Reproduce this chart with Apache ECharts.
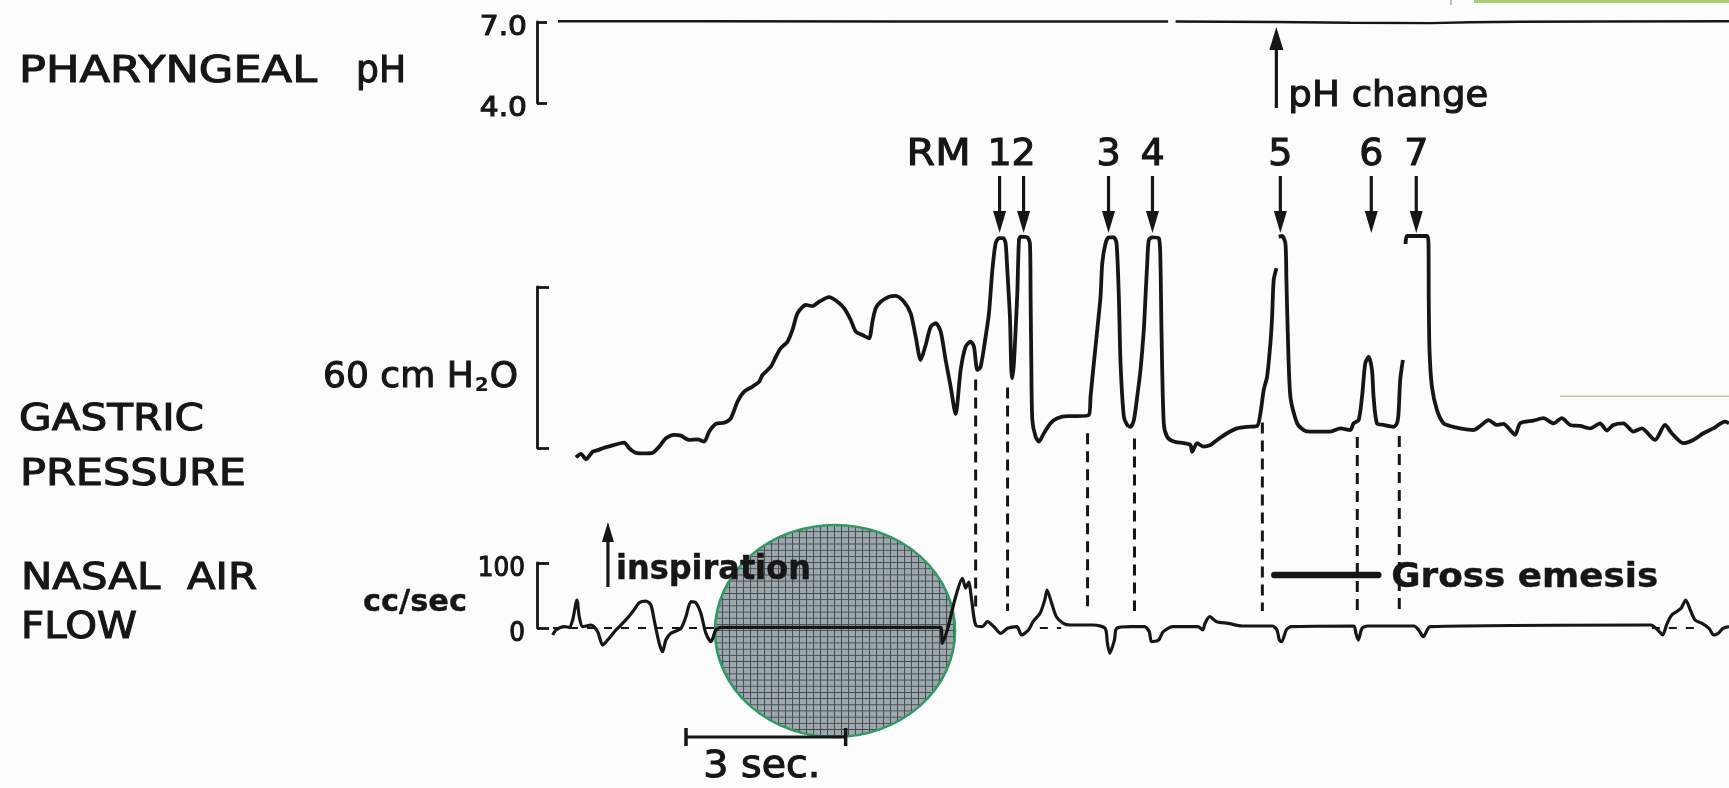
<!DOCTYPE html>
<html><head><meta charset="utf-8">
<script src="https://cdn.jsdelivr.net/npm/echarts@6/dist/echarts.min.js"></script>
<style>html,body{margin:0;padding:0;background:#fcfcfc}#c{width:1729px;height:788px}</style>
</head><body><div id="c"></div>
<script>
// ---------------- data ----------------
const timeRange = [0, 22.4];              // seconds
const phTicks = [4, 7];                   // pH bracket
const gastricTicks = [0, 60];             // cm H2O bracket
const nasalTicks = [0, 100];              // cc/sec bracket

const phTrace = [[0.394,7.03],[3.08,7.03],[6.84,7.02],[11.86,7.02],[11.93,'-'],[12.0,7.02],[13.88,7.0],[15.28,6.97],[16.79,6.96],[17.54,6.99],[18.48,7.01],[19.98,7.02],[22.4,7.03]];

const gastricTrace = [[0.732,-3.5],[0.826,-2.2],[0.920,-4.2],[1.046,-1.4],[1.140,-0.8],[1.264,0.1],[1.389,0.8],[1.515,1.5],[1.639,2.0],[1.733,-0.1],[1.859,-1.8],[2.015,-2.0],[2.172,-1.8],[2.296,0.5],[2.422,3.6],[2.578,4.9],[2.704,4.6],[2.860,3.0],[3.017,3.2],[3.141,2.4],[3.235,6.1],[3.361,9.0],[3.517,9.4],[3.643,11.1],[3.768,17.3],[3.892,21.0],[4.050,22.9],[4.174,24.7],[4.238,27.2],[4.394,30.3],[4.488,34.0],[4.581,37.2],[4.707,39.6],[4.801,44.0],[4.895,50.2],[5.051,53.3],[5.177,52.9],[5.300,54.5],[5.488,56.2],[5.646,54.5],[5.770,52.1],[5.896,47.7],[5.990,43.4],[6.115,42.1],[6.239,40.9],[6.303,47.1],[6.365,52.1],[6.459,54.5],[6.615,56.4],[6.741,56.7],[6.896,54.5],[7.022,50.2],[7.116,41.5],[7.210,32.8],[7.304,38.4],[7.398,45.2],[7.492,46.5],[7.586,43.4],[7.679,32.8],[7.773,22.9],[7.867,12.7],[7.961,29.1],[8.055,37.8],[8.149,39.6],[8.211,37.8],[8.275,29.1],[8.337,30.3],[8.431,41.5],[8.493,50.2],[8.557,66.3],[8.618,76.3],[8.680,78.2],[8.763,78.2],[8.806,76.3],[8.838,66.3],[8.887,48.9],[8.913,29.1],[8.932,26.0],[8.962,31.6],[8.994,44.0],[9.026,57.7],[9.057,77.5],[9.089,78.8],[9.214,78.5],[9.263,76.3],[9.276,56.4],[9.289,31.6],[9.308,10.4],[9.370,4.2],[9.432,2.4],[9.526,5.5],[9.651,9.2],[9.777,11.1],[9.965,11.9],[10.152,11.9],[10.370,12.3],[10.402,19.1],[10.464,31.6],[10.528,44.0],[10.590,56.4],[10.622,68.8],[10.684,76.3],[10.746,78.5],[10.840,78.5],[10.891,76.3],[10.934,56.4],[10.966,31.6],[11.028,11.7],[11.092,8.6],[11.154,7.9],[11.216,10.4],[11.279,19.1],[11.341,29.1],[11.403,44.0],[11.435,56.4],[11.467,68.8],[11.497,77.5],[11.560,78.5],[11.684,78.2],[11.716,68.8],[11.735,44.0],[11.778,9.2],[11.842,4.2],[11.966,2.4],[12.154,1.8],[12.280,1.1],[12.312,-1.4],[12.405,1.8],[12.529,0.5],[12.655,1.1],[12.781,3.0],[12.969,5.5],[13.156,7.3],[13.344,7.9],[13.532,8.2],[13.594,12.9],[13.656,21.6],[13.720,26.6],[13.782,39.0],[13.814,48.9],[13.844,62.6],[13.895,67.0],[13.917,'-'],[13.938,78.8],[14.002,79.0],[14.064,76.3],[14.083,62.6],[14.107,44.0],[14.158,19.1],[14.283,9.2],[14.407,6.7],[14.533,6.1],[14.721,6.1],[14.908,6.1],[15.096,7.3],[15.284,6.7],[15.346,9.2],[15.440,10.4],[15.504,19.1],[15.565,31.6],[15.627,34.0],[15.691,29.1],[15.721,19.1],[15.784,9.2],[15.908,8.6],[16.096,7.9],[16.160,9.2],[16.190,12.9],[16.221,25.3],[16.272,32.8],[16.300,'-'],[16.322,76.0],[16.354,79.0],[16.723,79.0],[16.753,76.3],[16.758,55.2],[16.772,36.5],[16.817,22.9],[16.911,14.2],[17.035,9.2],[17.161,8.2],[17.349,7.3],[17.599,6.7],[17.724,8.2],[17.881,10.4],[18.038,8.6],[18.162,9.0],[18.288,6.7],[18.382,4.9],[18.476,9.2],[18.725,10.2],[18.913,11.1],[19.101,9.2],[19.259,11.1],[19.414,8.6],[19.602,8.2],[19.790,7.3],[19.978,9.2],[20.103,6.5],[20.227,8.6],[20.415,9.2],[20.603,6.1],[20.761,7.3],[21.010,3.0],[21.198,8.6],[21.324,5.5],[21.541,1.8],[21.729,3.0],[21.917,5.5],[22.105,7.3],[22.325,9.8],[22.400,9.2]];

const nasalTrace = [[0.295,-10.8],[0.357,-3.1],[0.513,2.0],[0.606,1.1],[0.670,12.3],[0.751,43.1],[0.794,17.4],[0.858,2.0],[1.014,4.6],[1.140,-5.7],[1.234,-26.2],[1.327,-18.5],[1.483,-3.1],[1.639,9.7],[1.797,25.1],[1.921,38.9],[2.047,41.5],[2.140,35.4],[2.202,12.3],[2.296,-23.5],[2.360,-36.5],[2.422,-18.5],[2.516,-8.2],[2.704,-0.5],[2.798,17.4],[2.892,40.5],[2.985,38.9],[3.079,22.6],[3.173,-8.2],[3.267,-21.1],[3.361,-3.1],[3.455,1.1],[7.586,1.1],[7.617,-23.5],[7.711,-3.1],[7.773,17.4],[7.867,48.2],[7.993,76.5],[8.055,61.5],[8.111,70.8],[8.168,43.1],[8.243,4.6],[8.369,2.0],[8.462,9.7],[8.586,2.0],[8.712,-8.2],[8.843,-0.5],[9.018,2.0],[9.105,-10.8],[9.236,-3.1],[9.322,9.7],[9.454,22.6],[9.542,43.1],[9.585,58.5],[9.672,38.0],[9.760,17.4],[9.891,7.2],[10.021,4.6],[10.458,4.6],[10.676,-0.5],[10.719,-23.5],[10.764,-38.9],[10.851,-18.5],[10.894,-0.5],[11.157,2.0],[11.418,2.0],[11.506,-5.7],[11.549,-21.1],[11.681,-18.5],[11.767,-5.7],[11.942,2.0],[12.422,2.0],[12.508,-3.1],[12.554,7.2],[12.640,17.4],[12.772,9.7],[12.989,7.2],[13.250,3.1],[13.819,3.1],[13.905,-3.1],[13.951,-18.5],[13.994,-21.1],[14.080,-3.1],[14.169,2.0],[15.346,3.1],[15.389,-8.2],[15.434,-18.5],[15.503,-0.5],[15.609,3.1],[16.482,3.1],[16.568,-3.1],[16.656,-13.4],[16.786,2.0],[20.934,4.6],[21.063,-3.1],[21.151,-10.8],[21.238,7.2],[21.324,20.0],[21.412,25.1],[21.499,30.3],[21.587,43.1],[21.673,27.7],[21.762,12.3],[21.893,7.2],[22.024,-0.5],[22.111,-10.8],[22.197,-8.2],[22.287,-0.5],[22.400,2.0]];

const nasalZeroMarks = [[0.30,0],[3.40,0],[3.45,'-'],[9.45,0],[9.85,0],[9.90,'-'],[20.95,0],[21.85,0]];

const eventLabels = ['1','2','3','4','5','6','7'];
const eventArrowTimes = [8.693, 9.144, 10.740, 11.566, 13.969, 15.678, 16.523];
const eventOnsetTimes = [8.243, 8.843, 10.346, 11.228, 13.631, 15.415, 16.204];
const eventOnsetGastric = [27, 24, 7, 5, 11, 5.6, 6];
const onsetNasalEnd = 26;
const phChangeTime = 13.894;
const inspirationTime = 1.333;
const emesisSpan = [13.857, 15.809];
const emesisLevel = 81.5;
const scaleBarSpan = [2.8, 5.8];

// ---------------- chart ----------------
const INK = '#161616';
const FF = '"DejaVu Sans", sans-serif';
const AXIS_X = 537;
const chart = echarts.init(document.getElementById('c'));

const xAx = i => ({type:'value', gridIndex:i, min:timeRange[0], max:timeRange[1], show:false});
function bracket(i, ticks, tickLen){
  return {type:'value', gridIndex:i, min:ticks[0], max:ticks[1], interval:ticks[1]-ticks[0],
    axisLine:{show:true, lineStyle:{color:INK, width:2.8}},
    axisTick:{show:true, inside:true, length:tickLen, lineStyle:{color:INK, width:2.8}},
    splitLine:{show:false}, axisLabel:{show:false}};
}
const lineBase = {type:'line', symbol:'none', showSymbol:false, clip:false, animation:false, silent:true};

chart.setOption({
  animation:false,
  backgroundColor:'#fcfcfc',
  grid:[
    {left:AXIS_X, right:0, top:22, height:81},
    {left:AXIS_X, right:0, top:287, height:161},
    {left:AXIS_X, right:0, top:563, height:65},
    {left:AXIS_X, right:0, top:729, height:16}
  ],
  xAxis:[xAx(0), xAx(1), xAx(2), xAx(3)],
  yAxis:[
    bracket(0, phTicks, 10),
    bracket(1, gastricTicks, 12),
    bracket(2, nasalTicks, 12),
    {type:'value', gridIndex:3, min:-1, max:1, show:false}
  ],
  series:[
    Object.assign({}, lineBase, {name:'Pharyngeal pH', xAxisIndex:0, yAxisIndex:0, data:phTrace, lineStyle:{color:INK, width:2.4}}),
    Object.assign({}, lineBase, {name:'Gastric pressure', xAxisIndex:1, yAxisIndex:1, data:gastricTrace, smooth:0.25, lineStyle:{color:INK, width:3.8, join:'round'}}),
    Object.assign({}, lineBase, {name:'Nasal air flow', xAxisIndex:2, yAxisIndex:2, data:nasalTrace, smooth:0.25, lineStyle:{color:INK, width:3.2, join:'round'}}),
    Object.assign({}, lineBase, {name:'zero', xAxisIndex:2, yAxisIndex:2, data:nasalZeroMarks, lineStyle:{color:INK, width:1.8, type:[8,9]}}),
    Object.assign({}, lineBase, {name:'Gross emesis', xAxisIndex:2, yAxisIndex:2, data:emesisSpan.map(t=>[t, emesisLevel]), lineStyle:{color:INK, width:6.5, cap:'round'}}),
    Object.assign({}, lineBase, {name:'3 sec', xAxisIndex:3, yAxisIndex:3, data:scaleBarSpan.map(t=>[t,0]), symbol:'rect', symbolSize:[3.5,18], showSymbol:true, itemStyle:{color:INK}, lineStyle:{color:INK, width:3.2}})
  ]
});

// ---------------- annotations ----------------
const px = (g, t, v) => chart.convertToPixel({gridIndex:g}, [t, v]);
const mctx = document.createElement('canvas').getContext('2d');
function label(str, x, y, o){
  o = o || {};
  const font = (o.weight||'normal') + ' ' + (o.size||37) + 'px ' + FF;
  mctx.font = font;
  const w = mctx.measureText(str).width;
  const sx = o.width ? o.width / w : (o.scale || 1);
  return {type:'text', x:x, y:y, scaleX:sx, z:100, silent:true,
    style:{text:str, x:0, y:0, fill:INK, stroke:INK, lineWidth:(o.thick==null?1.1:o.thick), font:font, align:o.align||'left', verticalAlign:'middle'}};
}
function downArrow(x, yTop, yTip){
  return [
    {type:'line', z:100, shape:{x1:x, y1:yTop, x2:x, y2:yTip-12}, style:{stroke:INK, lineWidth:3.2}},
    {type:'polygon', z:100, shape:{points:[[x-6.5,yTip-22],[x+6.5,yTip-22],[x,yTip]]}, style:{fill:INK}}
  ];
}
function upArrow(x, yBot, yTip, hl, hw){
  return [
    {type:'line', z:100, shape:{x1:x, y1:yBot, x2:x, y2:yTip+12}, style:{stroke:INK, lineWidth:3.2}},
    {type:'polygon', z:100, shape:{points:[[x-hw,yTip+hl],[x+hw,yTip+hl],[x,yTip]]}, style:{fill:INK}}
  ];
}

// grid pattern for the round overlay
const pc = document.createElement('canvas'); pc.width = 7; pc.height = 7;
const pg = pc.getContext('2d');
pg.fillStyle = '#9ea7ab'; pg.fillRect(0,0,7,7);
pg.fillStyle = '#3e4b51'; pg.fillRect(6,0,1,7); pg.fillRect(0,6,7,1);

const els = [];
els.push({type:'circle', x:835, y:631, scaleY:106/120, z:1, silent:true,
  shape:{cx:0, cy:0, r:120}, style:{fill:{image:pc, repeat:'repeat'}, stroke:'#2f9a62', lineWidth:2.6}});

// tick labels of the brackets
phTicks.forEach(v => {
  const p = px(0, 0, v);
  els.push(label(v.toFixed(1), AXIS_X - 10, p[1] + 6, {size:27, scale:1.1, align:'right'}));
});
nasalTicks.forEach(v => {
  const p = px(2, 0, v);
  els.push(label(String(v), AXIS_X - 12, p[1] + 6, {size:26, scale:0.95, align:'right'}));
});

// side labels
els.push(label('PHARYNGEAL', 19, 72.5, {width:298}));
els.push(label('pH', 356, 72.5, {width:50}));
els.push(label('GASTRIC', 19, 420, {width:185}));
els.push(label('PRESSURE', 20, 475.5, {width:226}));
els.push(label('NASAL  AIR', 21, 579.5, {width:236}));
els.push(label('FLOW', 21, 628.5, {width:116}));
els.push({type:'text', x:518, y:378, z:100, silent:true, style:{
  text:'{a|60 cm H}{s|2}{a|O}', align:'right', verticalAlign:'middle', fill:INK,
  rich:{a:{font:'36px '+FF, fill:INK, stroke:INK, lineWidth:1.1}, s:{font:'bold 20px '+FF, fill:INK, verticalAlign:'bottom', padding:[0,1,0,1]}}}});
els.push(label('cc/sec', 467, 603, {weight:'bold', size:30, width:104, align:'right', thick:0.4}));

// event arrows & numbers
eventArrowTimes.forEach((t, i) => {
  const x = px(1, t, 0)[0];
  els.push(...downArrow(x, 176, 233));
  els.push(label(eventLabels[i], x, 155, {size:38, align:'center'}));
});
const x1 = px(1, eventArrowTimes[0], 0)[0];
els.push(label('RM', x1 - 29, 155, {size:38, align:'right', width:64}));

// dashed onset lines
eventOnsetTimes.forEach((t, i) => {
  const top = px(1, t, eventOnsetGastric[i]);
  const bot = px(2, t, onsetNasalEnd);
  els.push({type:'line', z:5, silent:true, shape:{x1:top[0], y1:top[1]+4, x2:bot[0], y2:bot[1]},
    style:{stroke:INK, lineWidth:3, lineDash:[11,7]}});
});

// pH change
const xph = px(0, phChangeTime, 7)[0];
els.push(...upArrow(xph, 108, 27, 23, 7));
els.push(label('pH change', xph + 12, 97, {size:36, width:200}));

// inspiration
const xin = px(2, inspirationTime, 0)[0];
els.push(...upArrow(xin, 587, 522, 20, 6));
els.push(label('inspiration', xin + 8, 570, {weight:'bold', size:33, width:195, thick:0.4}));

// gross emesis text
const xem = px(2, emesisSpan[1], emesisLevel);
els.push(label('Gross emesis', xem[0] + 13, xem[1] + 3, {weight:'bold', size:34, width:267, thick:0.4}));

// 3 sec
const sb0 = px(3, scaleBarSpan[0], 0), sb1 = px(3, scaleBarSpan[1], 0);
els.push(label('3 sec.', (sb0[0]+sb1[0])/2 - 4, 767, {size:37, width:117, align:'center'}));

// scan artefacts
els.push({type:'rect', z:100, silent:true, shape:{x:1474, y:0, width:255, height:3}, style:{fill:'#a6cf76'}});
els.push({type:'rect', z:100, silent:true, shape:{x:1450, y:0, width:2, height:5}, style:{fill:'#bdbdbd'}});
els.push({type:'rect', z:100, silent:true, shape:{x:1560, y:395.5, width:169, height:1.5}, style:{fill:'#b9d291'}});

chart.setOption({graphic:{elements:els}});
</script>
</body></html>
